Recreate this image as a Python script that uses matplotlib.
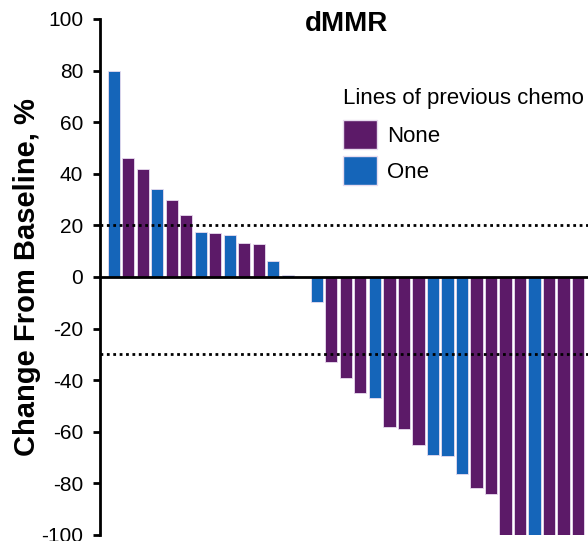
import matplotlib.pyplot as plt
from matplotlib.patches import Patch

plt.rcParams['font.family'] = ['Liberation Sans', 'DejaVu Sans']
plt.rcParams['axes.unicode_minus'] = False

# best change from baseline per patient, sorted (waterfall)
change = [80, 46, 42, 34, 30, 24, 17.4, 17, 16.4, 13.3, 12.8, 6.3, 0.9, 0,
          -9.7, -33, -39, -45, -47, -58, -59, -65, -69, -69.5, -76.4,
          -81.7, -84, -100, -100, -100, -100, -100, -100]
# lines of previous chemo: 0 = None, 1 = One
lines = [1, 0, 0, 1, 0, 0, 1, 0, 1, 0, 0, 1, 1, 0,
         1, 0, 0, 0, 1, 0, 0, 0, 1, 1, 1,
         0, 0, 0, 0, 1, 0, 0, 0]
group_names = ["None", "One"]
group_colors = ["#5c1a68", "#1565b9"]
thresholds = [20, -30]
yticks = list(range(-100, 101, 20))

fig = plt.figure(figsize=(5.88, 5.41), dpi=100)
ax = fig.add_axes([0.170, 0.0111, 0.83, 0.9538])

x = list(range(len(change)))
colors = [group_colors[g] for g in lines]
ax.bar(x, change, width=0.83, color=colors, edgecolor="#e8dcef", linewidth=0.6, zorder=2)

ax.axhline(0, color="black", lw=2, zorder=3)
for t in thresholds:
    ax.axhline(t, color="black", lw=2, ls=(0, (1, 1.3)), zorder=3)

ax.set_xlim(-0.966, 32.69)
ax.set_ylim(-100, 100)
ax.set_yticks(yticks)
ax.set_xticks([])
ax.tick_params(axis="y", labelsize=15, length=5, width=2, pad=7)
for s in ["top", "right", "bottom"]:
    ax.spines[s].set_visible(False)
ax.spines["left"].set_linewidth(2)

ax.set_ylabel("Change From Baseline, %", fontsize=21, fontweight="bold")
ax.yaxis.set_label_coords(-0.121, 0.5)
fig.text(0.589, 0.956, "dMMR", fontsize=20, fontweight="bold", ha="center", va="center")

handles = [Patch(facecolor=c, edgecolor="#e8dcef") for c in group_colors]
leg = fig.legend(handles, group_names, title="Lines of previous chemo", loc="upper left",
                 bbox_to_anchor=(0.583, 0.838), frameon=False, fontsize=16, title_fontsize=16,
                 handlelength=1.53, handleheight=1.63, labelspacing=0.34, handletextpad=0.45,
                 alignment="left", borderpad=0, borderaxespad=0)
leg._legend_box.sep = 8

fig.savefig("out.png", dpi=100)
